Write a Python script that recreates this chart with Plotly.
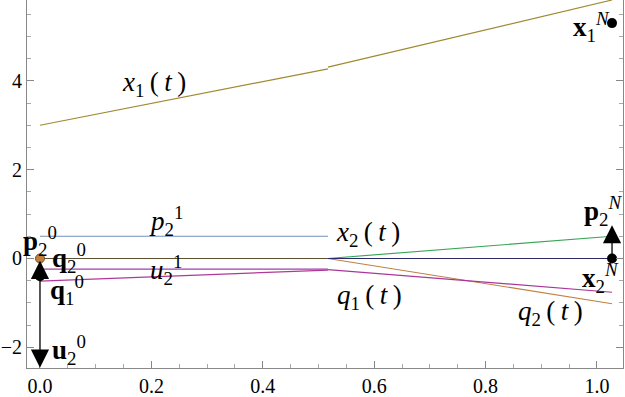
import plotly.graph_objects as go

# ---- data ----
t_first = [0.0, 0.517]
t_second = [0.517, 1.027]

x1_first = [3.0, 4.27]
x1_second = [4.31, 5.82]
p2_first = [0.5, 0.5]
zero_first = [0.0, 0.0]
u2_flat = [-0.24, -0.24]
u2_rise = [-0.51, -0.26]

x2_second = [0.0, 0.5]
zero_second = [0.0, 0.0]
q2_second = [0.0, -1.02]
u_second = [-0.25, -0.76]

# point markers
orange_pt_t, orange_pt_y = [0.0], [0.0]
black_pts_t = [0.0, 1.027, 1.027]
black_pts_y = [-0.40, 0.0, 5.30]

# arrows: (t, y_from, y_to)
arrows = [
    (0.0, -0.40, -0.05),
    (0.0, -0.40, -2.46),
    (1.027, 0.0, 0.75),
]

TS = "\u2009"
# labels: (t, y, text)
labels = [
    (0.205, 3.93, "<i>x</i><sub>1</sub>" + TS + "(" + TS + "<i>t</i>" + TS + ")"),
    (0.226, 0.84, "<i>p</i><sub>2</sub><sup>1</sup>"),
    (0.226, -0.25, "<i>u</i><sub>2</sub><sup>1</sup>"),
    (0.589, 0.55, "<i>x</i><sub>2</sub>" + TS + "(" + TS + "<i>t</i>" + TS + ")"),
    (0.592, -0.87, "<i>q</i><sub>1</sub>" + TS + "(" + TS + "<i>t</i>" + TS + ")"),
    (0.916, -1.23, "<i>q</i><sub>2</sub>" + TS + "(" + TS + "<i>t</i>" + TS + ")"),
]
bold_labels = [
    (0.0, 0.40, "<b>p</b><sub>2</sub><sup>0</sup>"),
    (0.052, 0.0, "<b>q</b><sub>2</sub><sup>0</sup>"),
    (0.048, -0.71, "<b>q</b><sub>1</sub><sup>0</sup>"),
    (0.052, -2.06, "<b>u</b><sub>2</sub><sup>0</sup>"),
    (0.990, 5.21, "<b>x</b><sub>1</sub><sup><i>N</i></sup>"),
    (1.010, 1.07, "<b>p</b><sub>2</sub><sup><i>N</i></sup>"),
    (1.006, -0.45, "<b>x</b><sub>2</sub><sup><i>N</i></sup>"),
]

x_ticks = [0.0, 0.2, 0.4, 0.6, 0.8, 1.0]
y_ticks = [-2, 0, 2, 4]

SERIF = "Liberation Serif, Times New Roman, DejaVu Serif, serif"

fig = go.Figure()

def line(t, y, color):
    fig.add_trace(go.Scatter(x=t, y=y, mode="lines",
                             line=dict(color=color, width=1.2),
                             showlegend=False, hoverinfo="skip"))

line(t_first, x1_first, "#a08a30")
line(t_second, x1_second, "#a08a30")
line(t_first, p2_first, "#7090c0")
line(t_first, u2_flat, "#a040a8")
line(t_first, u2_rise, "#b03898")
line(t_first, zero_first, "#5a5030")
line(t_second, x2_second, "#3aa655")
line(t_second, q2_second, "#c08040")
line(t_second, u_second, "#a83898")
line(t_second, zero_second, "#2a2a6a")

for (t, y0, y1) in arrows:
    fig.add_annotation(x=t, y=y1, ax=t, ay=y0, xref="x", yref="y",
                       axref="x", ayref="y", text="", showarrow=True,
                       arrowhead=2, arrowsize=2.8, arrowwidth=1.3,
                       arrowcolor="black")

fig.add_trace(go.Scatter(x=orange_pt_t, y=orange_pt_y, mode="markers",
                         marker=dict(color="#c08040", size=9,
                                     line=dict(color="#7a5020", width=1)),
                         showlegend=False, hoverinfo="skip"))
fig.add_trace(go.Scatter(x=black_pts_t, y=black_pts_y, mode="markers",
                         marker=dict(color="black", size=10),
                         showlegend=False, hoverinfo="skip"))

for (t, y, txt) in labels:
    fig.add_annotation(x=t, y=y, text=txt, showarrow=False,
                       font=dict(family=SERIF, size=27, color="black"))
for (t, y, txt) in bold_labels:
    fig.add_annotation(x=t, y=y, text=txt, showarrow=False,
                       font=dict(family=SERIF, size=27, color="black"))

axis_common = dict(showgrid=False, zeroline=False, showline=True,
                   linecolor="#888888", linewidth=1, ticks="inside",
                   tickcolor="#888888", ticklen=7, tickwidth=1,
                   automargin=False, ticklabelstandoff=0)

fig.update_xaxes(range=[-0.0233, 1.0467], tickvals=x_ticks,
                 ticktext=[f"{v:.1f}" for v in x_ticks],
                 tickfont=dict(family=SERIF, size=20, color="black"),
                 minor=dict(dtick=0.05, tick0=0, ticks="inside", ticklen=4,
                            tickcolor="#aaaaaa"),
                 **axis_common)
fig.update_yaxes(range=[-2.466, 5.82], tickvals=y_ticks,
                 ticktext=[str(v) if v >= 0 else "\u2212" + str(-v) for v in y_ticks],
                 tickfont=dict(family=SERIF, size=20, color="black"),
                 mirror="ticks",
                 minor=dict(dtick=0.5, tick0=0, ticks="inside", ticklen=4,
                            tickcolor="#aaaaaa"),
                 **axis_common)

fig.update_layout(width=625, height=397, margin=dict(l=27, r=2, t=0, b=29),
                  font=dict(family=SERIF),
                  plot_bgcolor="white", paper_bgcolor="white")

fig.write_html("out.html")
